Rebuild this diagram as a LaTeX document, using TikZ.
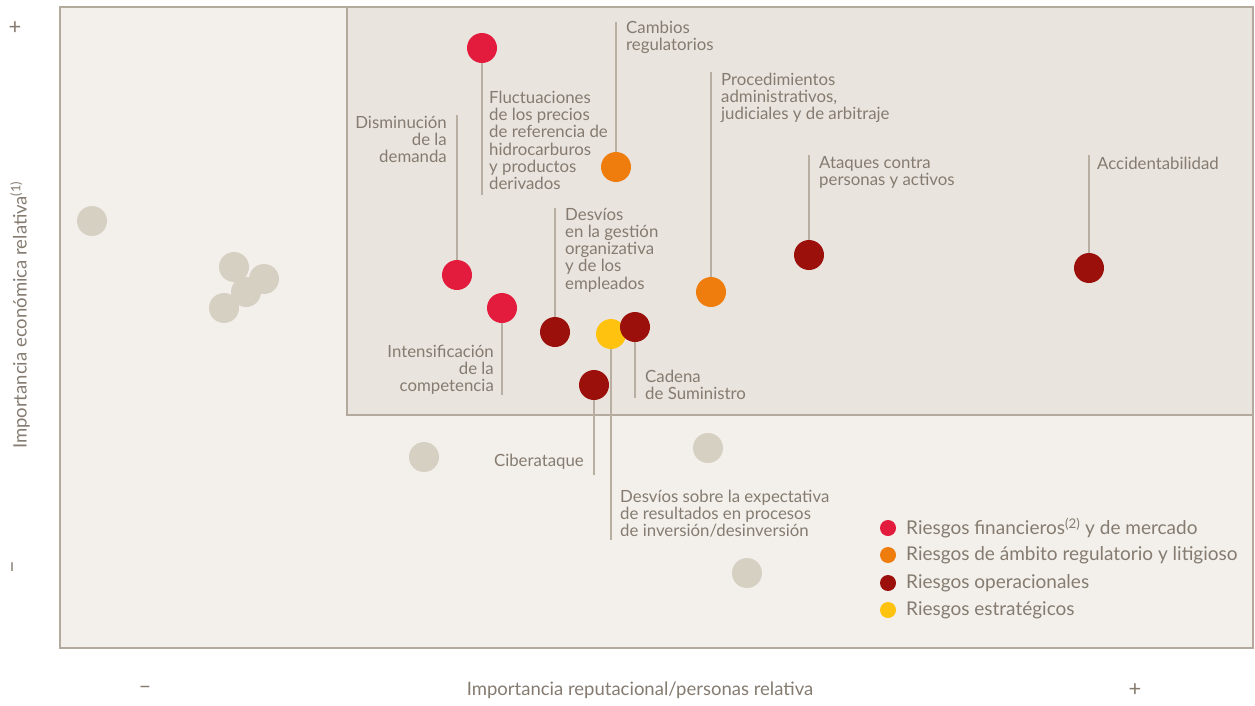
\documentclass[tikz,border=0pt]{standalone}
\usepackage{fontspec}
\setmainfont{Lato}
\definecolor{outerbg}{HTML}{F3F0EB}
\definecolor{innerbg}{HTML}{E9E4DE}
\definecolor{frame}{HTML}{B3A99D}
\definecolor{graydot}{HTML}{D6D0C3}
\definecolor{txt}{HTML}{857B70}
\definecolor{leadc}{HTML}{B8AEA2}
\definecolor{rfin}{HTML}{E31B3C}
\definecolor{rreg}{HTML}{EE7D0E}
\definecolor{rope}{HTML}{9C100B}
\definecolor{rest}{HTML}{FFC20E}
\tikzset{
  dot/.style={circle, fill=#1, minimum size=30pt, inner sep=0pt},
  ldot/.style={circle, fill=#1, minimum size=16pt, inner sep=0pt},
  lead/.style={draw=leadc, line width=1.3pt},
  lab/.style={text=txt, inner sep=0pt, font=\fontsize{16.8}{17.2}\selectfont},
  labl/.style={lab, anchor=north west, align=left},
  labr/.style={lab, anchor=north east, align=right},
  leg/.style={text=txt, inner sep=0pt, anchor=west, font=\fontsize{19}{20}\selectfont},
  axis/.style={text=txt, inner sep=0pt, font=\fontsize{18.5}{20}\selectfont},
  sign/.style={text=txt, inner sep=0pt, font=\fontsize{22}{22}\selectfont},
}
\begin{document}
\begin{tikzpicture}[x=1pt,y=-1pt]
\useasboundingbox (0,0) rectangle (1255,705);
\fill[white] (0,0) rectangle (1255,705);
% frames
\filldraw[fill=outerbg, draw=frame, line width=1.8pt] (60,7) rectangle (1253,648);
\filldraw[fill=innerbg, draw=frame, line width=1.5pt] (347,7) rectangle (1253,415);
% axis labels
\node[sign] (yp) at (15,28) {+};
\node[sign, rotate=90] (ym) at (15,567) {--};
\node[axis, rotate=90] (ylab) at (20,315) {Importancia económica relativa\textsuperscript{(1)}};
\node[sign] (xm) at (145,690) {--};
\node[axis] (xlab) at (640,690) {Importancia reputacional/personas relativa};
\node[sign] (xp) at (1135,690) {+};
% gray dots
\node[dot=graydot] (g1) at (92,221) {};
\node[dot=graydot] (g2) at (234,267) {};
\node[dot=graydot] (g3) at (264,279) {};
\node[dot=graydot] (g4) at (246,292) {};
\node[dot=graydot] (g5) at (224,308) {};
\node[dot=graydot] (g6) at (424,457) {};
\node[dot=graydot] (g7) at (708,448) {};
\node[dot=graydot] (g8) at (747,573) {};
% coordinates for leader ends
\coordinate (cfluc) at (482,195);
\coordinate (ccamb) at (616,22);
\coordinate (cdism) at (457,115);
\coordinate (cproc) at (711,72);
\coordinate (catq) at (809,155);
\coordinate (cacc) at (1089,155);
\coordinate (cdesv) at (555,208);
\coordinate (cint) at (502,395);
\coordinate (ccad) at (635,398);
\coordinate (ccib) at (594,475);
\coordinate (cdso) at (611,540);
% dot centres
\coordinate (pfluc) at (482,48);
\coordinate (pcamb) at (616,167);
\coordinate (pdism) at (457,275);
\coordinate (pproc) at (711,292);
\coordinate (patq) at (809,255);
\coordinate (pacc) at (1089,268);
\coordinate (pdesv) at (555,332);
\coordinate (pint) at (502,308);
\coordinate (pcad) at (635,327);
\coordinate (pcib) at (594,385);
\coordinate (pdso) at (611,334);
% leader lines (drawn before dots)
\draw[lead] (pfluc) -- (cfluc);
\draw[lead] (pcamb) -- (ccamb);
\draw[lead] (pdism) -- (cdism);
\draw[lead] (pproc) -- (cproc);
\draw[lead] (patq) -- (catq);
\draw[lead] (pacc) -- (cacc);
\draw[lead] (pdesv) -- (cdesv);
\draw[lead] (pint) -- (cint);
\draw[lead] (pcad) -- (ccad);
\draw[lead] (pcib) -- (ccib);
\draw[lead] (pdso) -- (cdso);
% colored dots
\node[dot=rfin] (dfluc) at (pfluc) {};
\node[dot=rreg] (dcamb) at (pcamb) {};
\node[dot=rfin] (ddism) at (pdism) {};
\node[dot=rreg] (dproc) at (pproc) {};
\node[dot=rope] (datq) at (patq) {};
\node[dot=rope] (dacc) at (pacc) {};
\node[dot=rfin] (dint) at (pint) {};
\node[dot=rope] (ddesv) at (pdesv) {};
\node[dot=rest] (ddso) at (pdso) {};
\node[dot=rope] (dcad) at (pcad) {};
\node[dot=rope] (dcib) at (pcib) {};
% labels
\node[labl] (tfluc) at (489,91) {Fluctuaciones\\de los precios\\de referencia de\\hidrocarburos\\y productos\\derivados};
\node[labl] (tcamb) at (626,21) {Cambios\\regulatorios};
\node[labr] (tdism) at (447,116) {Disminución\\de la\\demanda};
\node[labl] (tproc) at (721,73) {Procedimientos\\administrativos,\\judiciales y de arbitraje};
\node[labl] (tatq) at (819,156) {Ataques contra\\personas y activos};
\node[labl] (tacc) at (1097,157) {Accidentabilidad};
\node[labl] (tdesv) at (565,208) {Desvíos\\en la gestión\\organizativa\\y de los\\empleados};
\node[labr] (tint) at (494,345) {Intensificación\\de la\\competencia};
\node[labl] (tcad) at (645,370) {Cadena\\de Suministro};
\node[labr] (tcib) at (584,454) {Ciberataque};
\node[labl] (tdso) at (620,490) {Desvíos sobre la expectativa\\de resultados en procesos\\de inversión/desinversión};
% legend
\node[ldot=rfin] (l1) at (888,528) {};
\node[ldot=rreg] (l2) at (888,555) {};
\node[ldot=rope] (l3) at (888,583) {};
\node[ldot=rest] (l4) at (888,610) {};
\node[leg] (lt1) at (906,528) {Riesgos financieros\textsuperscript{(2)} y de mercado};
\node[leg] (lt2) at (906,555) {Riesgos de ámbito regulatorio y litigioso};
\node[leg] (lt3) at (906,583) {Riesgos operacionales};
\node[leg] (lt4) at (906,610) {Riesgos estratégicos};
\end{tikzpicture}
\end{document}
